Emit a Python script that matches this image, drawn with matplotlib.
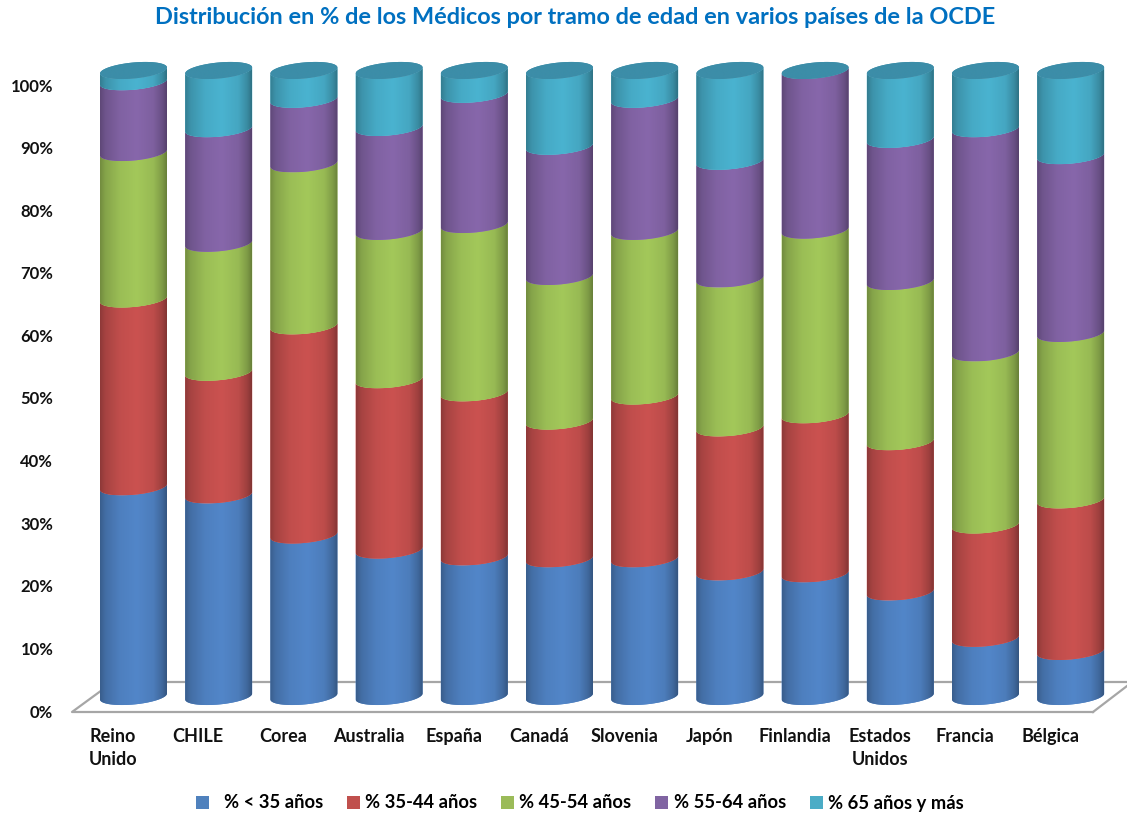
import numpy as np
import matplotlib
matplotlib.use('Agg')
import matplotlib.pyplot as plt
from matplotlib.patches import Patch, PathPatch
from matplotlib.path import Path
from matplotlib.colors import to_rgb

# Données (% de médicos par tramo de edad)
paises = ['Reino\nUnido', 'CHILE', 'Corea', 'Australia', 'España', 'Canadá', 'Slovenia',
          'Japón', 'Finlandia', 'Estados\nUnidos', 'Francia', 'Bélgica']
menos_35 = [33.5, 32.2, 25.8, 23.4, 22.3, 22.0, 22.0, 19.9, 19.6, 16.7, 9.3, 7.2]
de_35_44 = [30.0, 19.6, 33.4, 27.2, 26.2, 22.0, 26.0, 23.0, 25.4, 24.0, 18.1, 24.2]
de_45_54 = [23.4, 20.6, 25.9, 23.7, 26.9, 23.1, 26.3, 23.8, 29.5, 25.6, 27.5, 26.6]
de_55_64 = [11.3, 18.3, 10.3, 16.6, 20.8, 20.8, 21.1, 18.8, 25.5, 22.7, 35.8, 28.4]
mas_65 = [1.8, 9.3, 4.6, 9.1, 3.8, 12.1, 4.6, 14.5, 0.0, 11.0, 9.3, 13.6]
y_ticks = [0, 10, 20, 30, 40, 50, 60, 70, 80, 90, 100]
series = [menos_35, de_35_44, de_45_54, de_55_64, mas_65]
noms = ['  % < 35 años', '% 35-44 años', '% 45-54 años', '% 55-64 años', '% 65 años y más']
couleurs = ['#5286C9', '#CB5250', '#A3C85A', '#8767AB', '#4AB3D0']
couleurs_legende = ['#4F81BD', '#C0504D', '#9BBB59', '#8064A2', '#4BACC6']
couleur_cap = '#3C8DA8'

plt.rcParams['font.family'] = ['Lato', 'DejaVu Sans']
plt.rcParams['font.weight'] = 'bold'

W, H = 1127, 814
fig = plt.figure(figsize=(W / 100, H / 100), dpi=100)
# 0% a y=711 px, 100% a y=85 px
ax = fig.add_axes([70 / W, 1 - 711 / H, (W - 70) / W, (711 - 55) / H])
px_x = 85.2
px_y = 6.26

demi_largeur = 33.5 / px_x
b = 8.0 / px_y   # demi-axe vertical de l'ellipse
k = 3.0 / px_y   # inclinaison de l'ellipse
decalage = 0.96 + 8.5 / px_y  # centre de l'ellipse par rapport a la valeur
t_avant = np.linspace(np.pi, 2 * np.pi, 40)


def courbe(cx, v, t):
    return cx + demi_largeur * np.cos(t), v + decalage + b * np.sin(t) + k * np.cos(t)


def degrade(couleur):
    u = np.linspace(0, 1, 120)
    f = np.interp(u, [0, 0.08, 0.3, 0.55, 0.8, 0.93, 1], [0.7, 0.82, 0.95, 1.0, 0.93, 0.78, 0.64])
    return (np.array(to_rgb(couleur))[None, :] * f[:, None])[None, :, :].clip(0, 1)


def segment(cx, v0, v1, couleur, cap=False):
    if cap:
        t = np.linspace(0, 2 * np.pi, 80)
        xs, ys = courbe(cx, v1, t)
        img = np.array(to_rgb(couleur))[None, None, :] * np.ones((1, 120, 3))
    else:
        x0, y0 = courbe(cx, v0, t_avant)
        x1, y1 = courbe(cx, v1, t_avant[::-1])
        xs, ys = np.r_[x0, x1], np.r_[y0, y1]
        img = degrade(couleur)
    patch = PathPatch(Path(np.c_[xs, ys]), facecolor=couleur, edgecolor='none', zorder=3)
    ax.add_patch(patch)
    im = ax.imshow(img, extent=[cx - demi_largeur, cx + demi_largeur, ys.min(), ys.max()],
                   aspect='auto', interpolation='bilinear', zorder=3)
    im.set_clip_path(patch)


# Sol du graphique
sol_x = np.array([1093, 72, 113, W])
sol_y = np.array([712, 712, 682, 682])
ax.plot((sol_x - 133.5) / px_x, (711 - sol_y) / px_y, color='#A6A6A6', lw=1.6, zorder=1, clip_on=False)
ax.plot((np.array([1093, W]) - 133.5) / px_x, (711 - np.array([712, 686])) / px_y, color='#A6A6A6',
        lw=1.6, zorder=1, clip_on=False)

x = np.arange(len(paises))
bas = np.zeros(len(paises))
for valeurs, couleur in zip(series, couleurs):
    for i, v in enumerate(valeurs):
        if v > 0:
            segment(x[i], bas[i], bas[i] + v, couleur)
    bas = bas + np.array(valeurs)
for i in x:
    segment(i, 0, bas[i], couleur_cap, cap=True)

ax.set_xlim((70 - 133.5) / px_x, (W - 133.5) / px_x)
ax.set_ylim(0, 656 / px_y)

ax.set_yticks(y_ticks, [f'{t}%' for t in y_ticks], fontsize=12, fontweight='bold', color='#111111')
ax.set_xticks(x - 20.5 / px_x, paises, fontsize=13, fontweight='bold', color='#111111', linespacing=1.4)
ax.tick_params(axis='y', length=0, pad=12)
ax.tick_params(axis='x', length=0, pad=12.5)
for s in ax.spines.values():
    s.set_visible(False)

fig.text(575 / W, 1 - 18 / H, 'Distribución en % de los Médicos por tramo de edad en varios países de la OCDE',
         ha='center', va='center', fontsize=16.9, fontweight='bold', color='#0070C0')

poignees = [Patch(facecolor=c, edgecolor='none') for c in couleurs_legende]
fig.legend(poignees, noms, loc='center', bbox_to_anchor=(580 / W, 1 - 803 / H), ncol=5, frameon=False,
           fontsize=13.2, handlelength=0.7, handleheight=0.7, handletextpad=0.3, columnspacing=1.3)

plt.savefig('out.png', dpi=100)
